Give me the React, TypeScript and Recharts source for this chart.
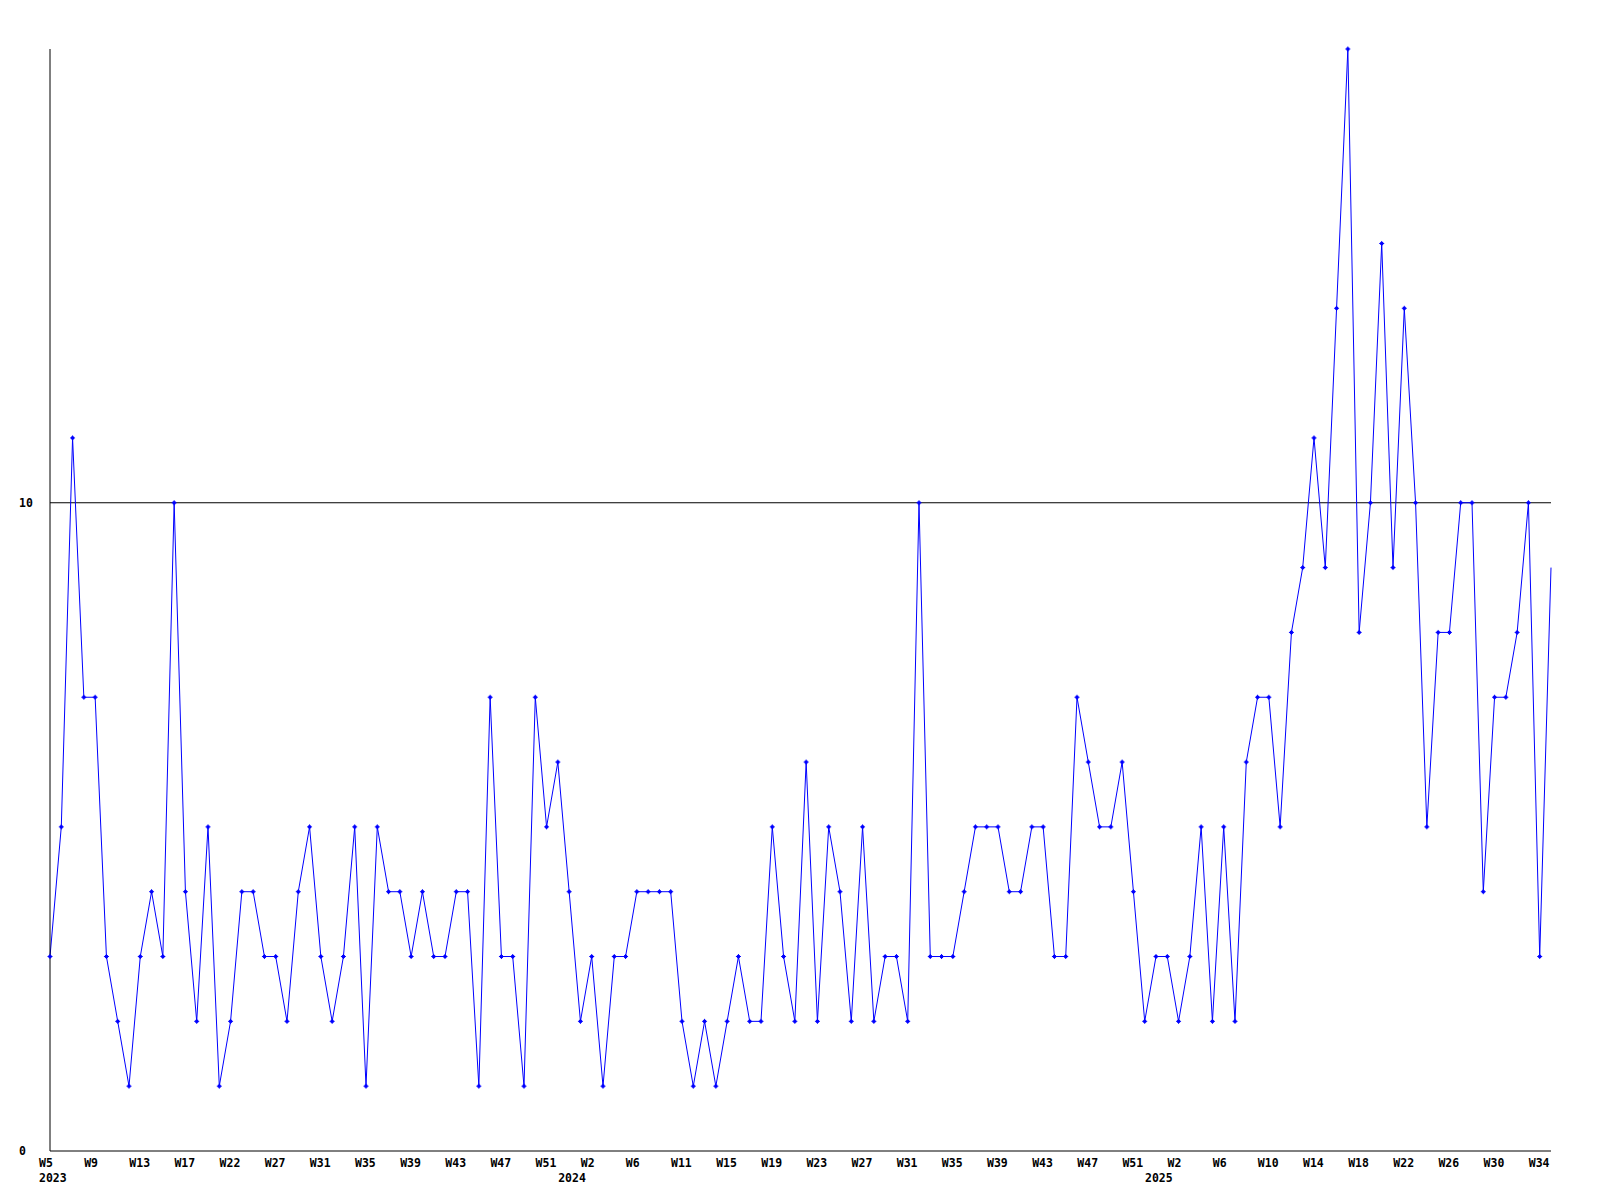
import React from "react";
import { Line, LineChart, ReferenceLine, XAxis, YAxis } from "recharts";

// weekly counts, one per point (W5 2023 .. W35 2025)
const weeklyCounts: number[] = [
  3, 5, 11, 7, 7, 3, 2, 1, 3, 4, 3, 10, 4, 2, 5, 1, 2,
  4, 4, 3, 3, 2, 4, 5, 3, 2, 3, 5, 1, 5, 4, 4, 3,
  4, 3, 3, 4, 4, 1, 7, 3, 3, 1, 7, 5, 6, 4, 2, 3, 1,
  3, 3, 4, 4, 4, 4, 2, 1, 2, 1, 2, 3, 2, 2, 5, 3, 2,
  6, 2, 5, 4, 2, 5, 2, 3, 3, 2, 10, 3, 3, 3, 4, 5, 5,
  5, 4, 4, 5, 5, 3, 3, 7, 6, 5, 5, 6, 4, 2, 3, 3, 2,
  3, 5, 2, 5, 2, 6, 7, 7, 5, 8, 9, 11, 9, 13, 17,
  8, 10, 14, 9, 13, 10, 5, 8, 8, 10, 10, 4, 7, 7, 8, 10, 3, 9,
];

// axis labels, one every 4th point
const weekLabels: string[] = [
  "W5", "W9", "W13", "W17", "W22", "W27", "W31", "W35", "W39", "W43", "W47", "W51",
  "W2", "W6", "W11", "W15", "W19", "W23", "W27", "W31", "W35", "W39", "W43", "W47", "W51",
  "W2", "W6", "W10", "W14", "W18", "W22", "W26", "W30", "W34",
];
const yearLabels: string[] = ["2023", "2024", "2025"];
const yearAt: number[] = [0, 46, 98];

const yTicks: number[] = [0, 10];

const data = weeklyCounts.map((v, i) => ({ i, v }));
const weekTicks = weekLabels.map((_, k) => k * 4);
const allTicks = Array.from(new Set([...weekTicks, ...yearAt])).sort((a, b) => a - b);
const lastIndex = weeklyCounts.length - 1;

const FONT = "'DejaVu Sans Mono', 'Liberation Mono', monospace";
const BLUE = "#0000ff";

function XTick(props: any) {
  const { x, payload } = props;
  const idx = Number(payload?.value);
  const k = weekTicks.indexOf(idx);
  const y = yearAt.indexOf(idx);
  return (
    <g>
      {k >= 0 && (
        <text
          x={x - 11}
          y={1163}
          textAnchor="start"
          dominantBaseline="central"
          fontFamily={FONT}
          fontWeight="bold"
          fontSize={11.5}
          fill="#000"
        >
          {weekLabels[k]}
        </text>
      )}
      {y >= 0 && (
        <text
          x={x - 11}
          y={1178}
          textAnchor="start"
          dominantBaseline="central"
          fontFamily={FONT}
          fontWeight="bold"
          fontSize={11.5}
          fill="#000"
        >
          {yearLabels[y]}
        </text>
      )}
    </g>
  );
}

function YTick(props: any) {
  const { y, payload } = props;
  return (
    <text
      x={19}
      y={y}
      textAnchor="start"
      dominantBaseline="central"
      fontFamily={FONT}
      fontWeight="bold"
      fontSize={11.5}
      fill="#000"
    >
      {payload.value}
    </text>
  );
}

function Marker(props: any) {
  const { cx, cy, index } = props;
  if (cx == null || cy == null || index === lastIndex) return <g />;
  return (
    <g>
      <rect x={cx - 1.5} y={cy - 1.5} width={3} height={3} fill={BLUE} />
      <path d={`M${cx - 2.5},${cy} H${cx + 2.5} M${cx},${cy - 2.5} V${cy + 2.5}`} stroke={BLUE} strokeWidth={1} />
    </g>
  );
}

export default function App() {
  return (
    <div style={{ position: "absolute", left: 0, top: 0, width: 1600, height: 1200, background: "#fff" }}>
      <LineChart
        width={1600}
        height={1200}
        data={data}
        margin={{ top: 49, right: 49, bottom: 0, left: 0 }}
      >
        <XAxis
          type="number"
          dataKey="i"
          domain={[0, lastIndex]}
          ticks={allTicks}
          interval={0}
          tick={<XTick />}
          tickLine={false}
          axisLine={{ stroke: "#000", strokeWidth: 1 }}
          height={49}
          allowDecimals={false}
        />
        <YAxis
          type="number"
          domain={[0, 17]}
          ticks={yTicks}
          tick={<YTick />}
          tickLine={false}
          axisLine={{ stroke: "#000", strokeWidth: 1 }}
          width={50}
          interval={0}
        />
        <ReferenceLine y={10} stroke="#000" strokeWidth={1} />
        <Line
          type="linear"
          dataKey="v"
          stroke={BLUE}
          strokeWidth={1}
          dot={<Marker />}
          activeDot={false}
          isAnimationActive={false}
        />
      </LineChart>
    </div>
  );
}
